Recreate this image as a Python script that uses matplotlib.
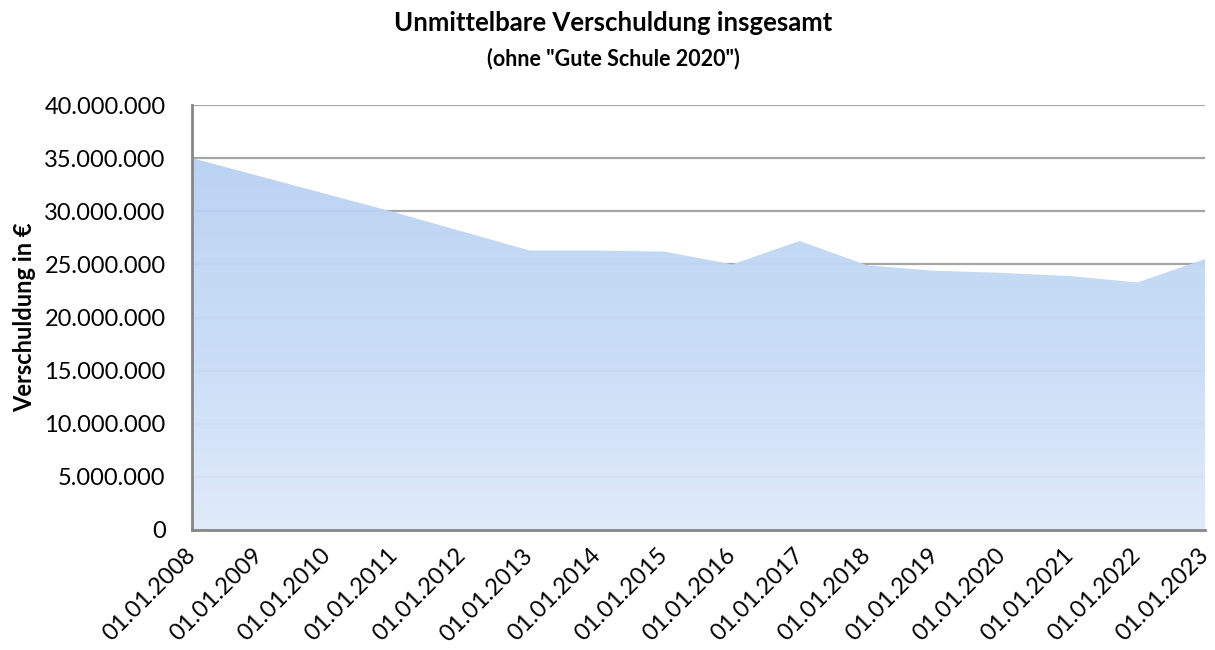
import matplotlib
matplotlib.use("Agg")
import matplotlib.pyplot as plt
import numpy as np
from matplotlib.ticker import FuncFormatter
from matplotlib.colors import LinearSegmentedColormap

dates = ["01.01.2008", "01.01.2009", "01.01.2010", "01.01.2011", "01.01.2012",
         "01.01.2013", "01.01.2014", "01.01.2015", "01.01.2016", "01.01.2017",
         "01.01.2018", "01.01.2019", "01.01.2020", "01.01.2021", "01.01.2022",
         "01.01.2023"]
debt = [35.0e6, 33.3e6, 31.6e6, 29.9e6, 28.1e6,
        26.3e6, 26.3e6, 26.2e6, 25.0e6, 27.2e6,
        24.9e6, 24.4e6, 24.2e6, 23.9e6, 23.3e6,
        25.5e6]
yticks = [0, 5e6, 10e6, 15e6, 20e6, 25e6, 30e6, 35e6, 40e6]

plt.rcParams['font.family'] = ['Lato', 'DejaVu Sans']

fig = plt.figure(figsize=(12.15, 6.5), dpi=100)
ax = fig.add_axes([192/1215, 1-530/650, (1205-192)/1215, (530-105)/650])

x = np.arange(len(dates))

for t in yticks[1:]:
    ax.axhline(t, color='#a6a6a6', lw=1.6, zorder=1)

poly = ax.fill_between(x, debt, 0, color='none', lw=0, zorder=2)
cmap = LinearSegmentedColormap.from_list('g', ['#dfeafa', '#c6dbf6', '#b7d0f2'])
grad = np.linspace(0, 1, 256).reshape(-1, 1)
im = ax.imshow(grad, cmap=cmap, aspect='auto', origin='lower',
               extent=[0, len(dates)-1, 0, 36e6], zorder=2, alpha=0.95)
path = poly.get_paths()[0]
im.set_clip_path(path, transform=ax.transData)
ax.set_xlim(0, len(dates)-1)
ax.set_ylim(0, 40e6)

for s in ['top', 'right']:
    ax.spines[s].set_visible(False)
for s in ['left', 'bottom']:
    ax.spines[s].set_color('#868686')
    ax.spines[s].set_linewidth(2)
    ax.spines[s].set_zorder(5)

ax.set_yticks(yticks)
ax.yaxis.set_major_formatter(FuncFormatter(lambda v, p: f"{int(v):,}".replace(",", ".")))
ax.set_xticks(x)
ax.set_xticklabels(dates, rotation=45, ha='right', va='center', rotation_mode='anchor')
ax.tick_params(axis='both', length=0, labelsize=17, colors='black')
ax.tick_params(axis='y', pad=19)
ax.tick_params(axis='x', pad=16)

ax.set_ylabel("Verschuldung in €", fontsize=17, fontweight='bold', labelpad=6)

fig.text(0.505, 1-31/650, "Unmittelbare Verschuldung insgesamt", ha='center', va='baseline',
         fontsize=18.5, fontweight='bold')
fig.text(0.505, 1-65/650, '(ohne "Gute Schule 2020")', ha='center', va='baseline',
         fontsize=15.5, fontweight='bold')

fig.savefig("out.png", dpi=100)
